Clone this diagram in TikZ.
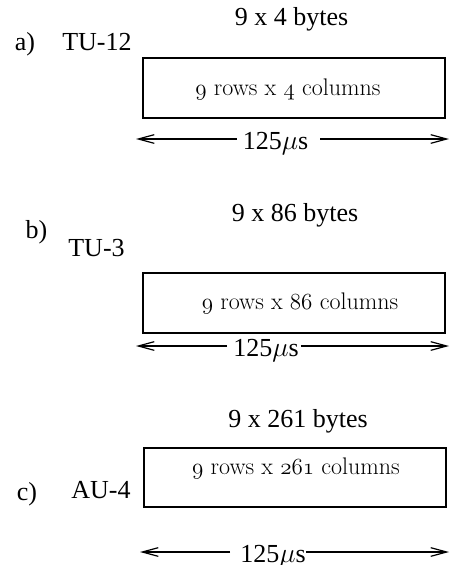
\documentclass[tikz,border=0pt]{standalone}
\usepackage{fontspec}
\setmainfont{Liberation Serif}
\newfontfamily\boxfont{Latin Modern Roman}
\usetikzlibrary{arrows.meta}
% old-style digits from the Latin Modern math italic font
\newcommand{\osf}[1]{{\usefont{OML}{lmm}{m}{it}#1}}
\begin{document}
\begin{tikzpicture}[x=0.75pt,y=-0.75pt,
  lbl/.style={font=\fontsize{19.5}{22}\selectfont, inner sep=0pt, anchor=base},
  boxtxt/.style={font=\boxfont\fontsize{18}{21}\selectfont, inner sep=0pt, anchor=base},
  frame/.style={draw, line width=0.9pt, minimum width=226.5pt, minimum height=45pt, inner sep=0pt},
  arr/.style={-{Straight Barb[length=12pt,width=6.5pt,line width=0.9pt]}, line width=0.8pt},
]
\useasboundingbox (0,0) rectangle (451,565);

% ---- a) TU-12
\node[lbl] (la) at (25,50) {a)};
\node[lbl] (na) at (97,50) {TU-12};
\node[lbl] (ba) at (291.5,25) {9 x 4 bytes};
\node[frame] (fa) at (294,88) {};
\node[boxtxt] (ta) at (288,95) {\osf{9} rows x \osf{4} columns};
\node[lbl] (ua) at (275.5,149) {125$\mu$s};
\coordinate (aL) at (136,139);
\coordinate (aR) at (449,139);
\draw[arr] ([xshift=-4.5pt,yshift=7.5pt]ua.base west) -- (aL);
\draw[arr] ([xshift=9pt,yshift=7.5pt]ua.base east) -- (aR);

% ---- b) TU-3
\node[lbl] (lb) at (36.5,238) {b)};
\node[lbl] (nb) at (96.5,256) {TU-3};
\node[lbl] (bb) at (295,221) {9 x 86 bytes};
\node[frame] (fb) at (294,303) {};
\node[boxtxt] (tb) at (300,309) {\osf{9} rows x \osf{86} columns};
\node[lbl] (ub) at (266,356) {125$\mu$s};
\coordinate (bL) at (136,346);
\coordinate (bR) at (449,346);
\draw[arr] ([xshift=-4.5pt,yshift=7.5pt]ub.base west) -- (bL);
\draw[arr] ([xshift=1.5pt,yshift=7.5pt]ub.base east) -- (bR);

% ---- c) AU-4
\node[lbl] (lc) at (27,500) {c)};
\node[lbl] (nc) at (101,498) {AU-4};
\node[lbl] (bc) at (298,427) {9 x 261 bytes};
\node[frame, minimum height=44.25pt] (fc) at (295,477.5) {};
\node[boxtxt] (tc) at (296,474) {\osf{9} rows x \osf{261} columns};
\node[lbl] (uc) at (273,562) {125$\mu$s};
\coordinate (cL) at (140,552);
\coordinate (cR) at (449,552);
\draw[arr] ([xshift=-7.5pt,yshift=7.5pt]uc.base west) -- (cL);
\draw[arr] ([xshift=0pt,yshift=7.5pt]uc.base east) -- (cR);
\end{tikzpicture}
\end{document}
